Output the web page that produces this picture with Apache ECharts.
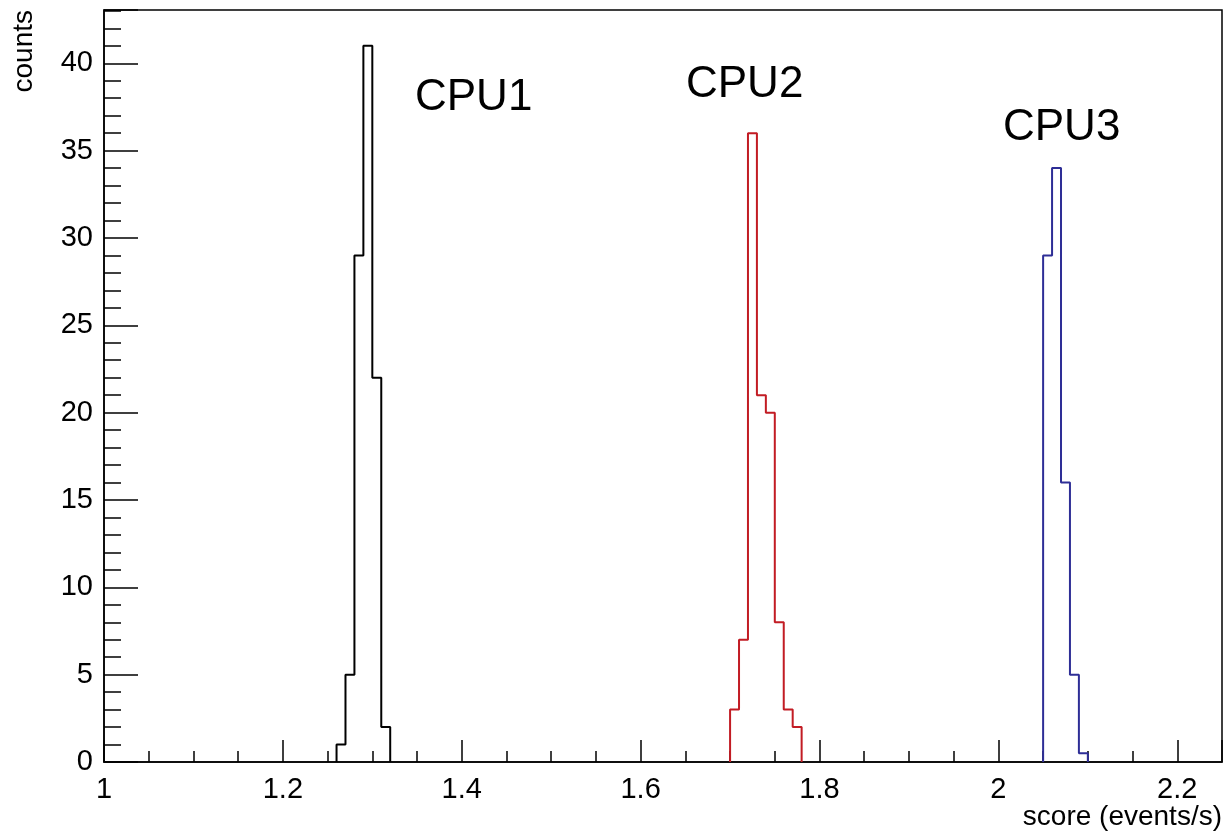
<!DOCTYPE html>
<html><head><meta charset="utf-8">
<script src="https://cdn.jsdelivr.net/npm/echarts@6/dist/echarts.min.js"></script>
<style>html,body{margin:0;padding:0;background:#fff}#c{width:1225px;height:831px}</style>
</head><body><div id="c"></div>
<script>
// ---- data ----
const binWidth = 0.01;
const seriesNames = ['CPU1', 'CPU2', 'CPU3'];
const cpu1Start = 1.26;
const cpu1Counts = [1, 5, 29, 41, 22, 2];
const cpu2Start = 1.70;
const cpu2Counts = [3, 7, 36, 21, 20, 8, 3, 2];
const cpu3Start = 2.05;
const cpu3Counts = [29, 34, 16, 5, 0.5];
const xTitle = 'score (events/s)';
const yTitle = 'counts';

const FONT = 'Liberation Sans, Arial, Helvetica, sans-serif';

function stepPoints(start, counts) {
  const pts = [[start, 0]];
  counts.forEach((c, i) => pts.push([+(start + i * binWidth).toFixed(4), c]));
  const end = +(start + counts.length * binWidth).toFixed(4);
  pts.push([end, counts[counts.length - 1]]);
  pts.push([end, 0]);
  return pts;
}

const hists = [
  { name: seriesNames[0], start: cpu1Start, counts: cpu1Counts, color: '#000000' },
  { name: seriesNames[1], start: cpu2Start, counts: cpu2Counts, color: '#c21c24' },
  { name: seriesNames[2], start: cpu3Start, counts: cpu3Counts, color: '#2e2e96' }
];

const yMax = +(Math.max(...cpu1Counts, ...cpu2Counts, ...cpu3Counts) * 1.05).toFixed(2);

const chart = echarts.init(document.getElementById('c'), null, { renderer: 'canvas' });
chart.setOption({
  backgroundColor: '#ffffff',
  animation: false,
  grid: { left: 104, right: 3, top: 10, bottom: 69, show: true, borderColor: '#000', borderWidth: 1.5, backgroundColor: 'transparent' },
  xAxis: {
    type: 'value', min: 1, max: 2.25, interval: 0.2,
    axisLine: { show: true, lineStyle: { color: '#000', width: 1.5 } },
    axisTick: { show: true, inside: true, length: 22, lineStyle: { color: '#000', width: 1.5 } },
    minorTick: { show: true, splitNumber: 4, length: 11, lineStyle: { color: '#000', width: 1.5 } },
    splitLine: { show: false },
    axisLabel: { color: '#000', fontSize: 29, fontFamily: FONT, margin: 13, showMaxLabel: false,
      formatter: v => String(+v.toFixed(2)) }
  },
  yAxis: {
    type: 'value', min: 0, max: yMax, interval: 5,
    axisLine: { show: true, lineStyle: { color: '#000', width: 1.5 } },
    axisTick: { show: true, inside: true, length: 34, lineStyle: { color: '#000', width: 1.5 } },
    minorTick: { show: true, splitNumber: 5, length: 17, lineStyle: { color: '#000', width: 1.5 } },
    splitLine: { show: false },
    axisLabel: { color: '#000', fontSize: 29, fontFamily: FONT, margin: 11, showMaxLabel: false,
      formatter: v => String(+v.toFixed(2)) }
  },
  series: hists.map(h => ({
    name: h.name, type: 'line', step: 'end', symbol: 'none',
    data: stepPoints(h.start, h.counts),
    lineStyle: { color: h.color, width: 2 },
    z: 3
  })),
  graphic: [
    { type: 'text', left: 415, top: 76, style: { text: seriesNames[0], fontSize: 44, fontFamily: FONT, fill: '#000' } },
    { type: 'text', left: 686, top: 63, style: { text: seriesNames[1], fontSize: 44, fontFamily: FONT, fill: '#000' } },
    { type: 'text', left: 1003, top: 106, style: { text: seriesNames[2], fontSize: 44, fontFamily: FONT, fill: '#000' } },
    { type: 'text', x: 24, y: 10, rotation: Math.PI / 2,
      style: { text: yTitle, fontSize: 28, fontFamily: FONT, fill: '#000', align: 'right', verticalAlign: 'middle' } },
    { type: 'text', x: 1222, y: 817,
      style: { text: xTitle, fontSize: 28, fontFamily: FONT, fill: '#000', align: 'right', verticalAlign: 'middle' } }
  ]
});
</script></body></html>
